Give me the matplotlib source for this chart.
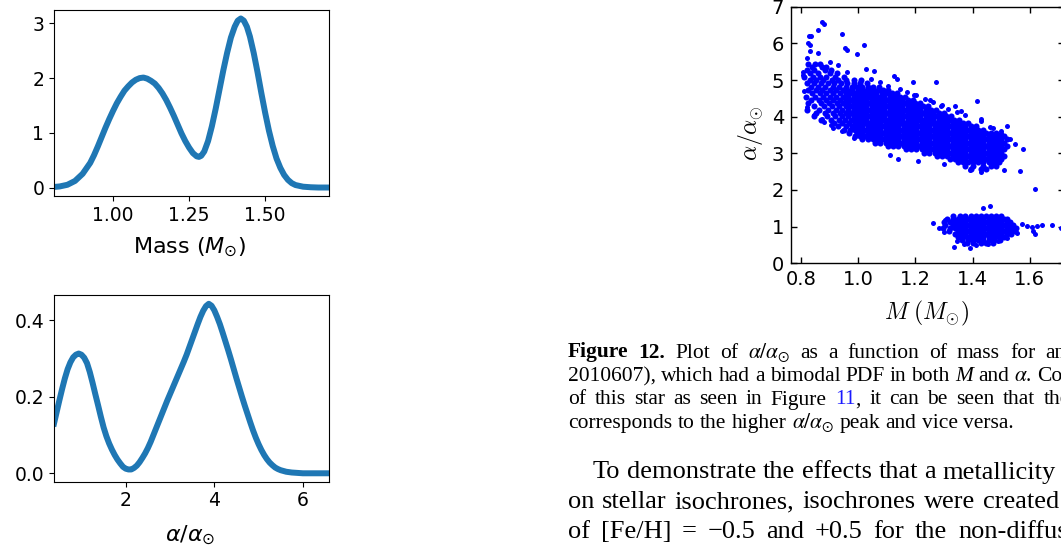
import matplotlib
matplotlib.use("Agg")
import matplotlib.pyplot as plt

W, H, DPI = 1061, 548, 100

# ---------------- posterior density curves ----------------
mass_grid = [0.806, 0.825, 0.85, 0.875, 0.90, 0.925, 0.9375, 0.95, 0.9625, 0.975,
             0.9875, 1.00, 1.0125, 1.025, 1.0375, 1.05, 1.0625, 1.075, 1.0875, 1.10,
             1.1125, 1.125, 1.1375, 1.15, 1.1625, 1.175, 1.1875, 1.20, 1.2125, 1.225,
             1.2375, 1.25, 1.2625, 1.275, 1.2825, 1.29, 1.30, 1.3125, 1.325, 1.3375,
             1.35, 1.3625, 1.375, 1.3875, 1.40, 1.41, 1.42, 1.43, 1.44, 1.45, 1.4625,
             1.475, 1.4875, 1.50, 1.5125, 1.525, 1.5375, 1.55, 1.5625, 1.575, 1.5875,
             1.60, 1.625, 1.65, 1.675, 1.71]
mass_pdf = [0.01, 0.02, 0.05, 0.12, 0.25, 0.45, 0.59, 0.75, 0.92, 1.09,
            1.25, 1.40, 1.54, 1.66, 1.77, 1.85, 1.92, 1.97, 2.00, 2.01,
            1.99, 1.95, 1.90, 1.82, 1.72, 1.60, 1.46, 1.31, 1.15, 0.99,
            0.85, 0.73, 0.63, 0.57, 0.56, 0.58, 0.66, 0.85, 1.12, 1.44,
            1.79, 2.14, 2.46, 2.74, 2.94, 3.05, 3.09, 3.05, 2.94, 2.76, 2.46,
            2.11, 1.73, 1.37, 1.04, 0.76, 0.53, 0.36, 0.23, 0.14, 0.08,
            0.045, 0.015, 0.005, 0.0, 0.0]

alpha_grid = [0.38, 0.45, 0.50, 0.5625, 0.625, 0.6875, 0.75, 0.8125, 0.875, 0.9375,
              1.00, 1.0625, 1.125, 1.1875, 1.25, 1.3125, 1.375, 1.4375, 1.50, 1.5625,
              1.625, 1.6875, 1.75, 1.8125, 1.875, 1.9375, 2.00, 2.0625, 2.125, 2.1875,
              2.25, 2.3125, 2.375, 2.4375, 2.50, 2.5625, 2.625, 2.6875, 2.75, 2.8125,
              2.875, 2.9375, 3.00, 3.0625, 3.125, 3.1875, 3.25, 3.3125, 3.375, 3.4375,
              3.50, 3.5625, 3.625, 3.6875, 3.75, 3.8125, 3.875, 3.9375, 4.00, 4.0625,
              4.125, 4.1875, 4.25, 4.3125, 4.375, 4.4375, 4.50, 4.5625, 4.625, 4.6875,
              4.75, 4.8125, 4.875, 4.9375, 5.00, 5.0625, 5.125, 5.1875, 5.25, 5.3125,
              5.375, 5.4375, 5.50, 5.625, 5.75, 5.875, 6.00, 6.59]
alpha_pdf = [0.13, 0.165, 0.19, 0.22, 0.248, 0.272, 0.29, 0.303, 0.31, 0.313,
             0.31, 0.302, 0.288, 0.265, 0.237, 0.207, 0.178, 0.148, 0.12, 0.097,
             0.078, 0.062, 0.048, 0.036, 0.026, 0.017, 0.012, 0.010, 0.010, 0.014,
             0.02, 0.029, 0.04, 0.052, 0.066, 0.082, 0.10, 0.118, 0.136, 0.154,
             0.172, 0.19, 0.207, 0.224, 0.241, 0.258, 0.275, 0.292, 0.31, 0.33,
             0.35, 0.37, 0.39, 0.409, 0.425, 0.437, 0.443, 0.438, 0.426, 0.409,
             0.39, 0.368, 0.345, 0.322, 0.298, 0.273, 0.248, 0.224, 0.20, 0.177,
             0.155, 0.133, 0.112, 0.093, 0.076, 0.061, 0.048, 0.037, 0.028, 0.021,
             0.015, 0.011, 0.008, 0.004, 0.002, 0.001, 0.0, 0.0]

mass_ticks = [1.00, 1.25, 1.50]
mass_pdf_ticks = [0, 1, 2, 3]
alpha_ticks = [2, 4, 6]
alpha_pdf_ticks = [0.0, 0.2, 0.4]

# ---------------- sampled (M, alpha) pairs ----------------
# high-alpha branch, listed row by row in alpha
upper_row_alpha = [5.45, 5.36, 5.27, 5.18, 5.09, 5.00, 4.91, 4.82, 4.73, 4.64, 4.55,
                   4.46, 4.37, 4.28, 4.19, 4.10, 4.01, 3.92, 3.83, 3.74, 3.65, 3.56,
                   3.47, 3.38, 3.29, 3.20, 3.11, 3.02, 2.93, 2.84, 2.75, 2.66, 2.58]
upper_row_mass = [
    [0.826, 0.850, 0.866],
    [0.838, 0.872, 0.889],
    [0.822, 0.846, 0.884, 0.905],
    [0.833, 0.858, 0.900, 0.927],
    [0.812, 0.842, 0.866, 0.888, 0.918, 0.950],
    [0.830, 0.852, 0.876, 0.907, 0.930, 0.958, 0.985, 1.010],
    [0.822, 0.846, 0.870, 0.895, 0.917, 0.940, 0.962, 0.984, 1.006, 1.030],
    [0.835, 0.860, 0.884, 0.912, 0.934, 0.956, 0.979, 0.997, 1.015, 1.033, 1.051, 1.072],
    [0.826, 0.852, 0.875, 0.900, 0.922, 0.946, 0.962, 0.980, 0.998, 1.016, 1.034, 1.052,
     1.070, 1.088, 1.105],
    [0.840, 0.866, 0.889, 0.912, 0.936, 0.956, 0.974, 0.992, 1.010, 1.028, 1.046, 1.064,
     1.082, 1.100, 1.118, 1.136],
    [0.818, 0.850, 0.876, 0.900, 0.924, 0.948, 0.966, 0.984, 1.002, 1.020, 1.038, 1.056,
     1.074, 1.092, 1.110, 1.128, 1.146, 1.164],
    [0.835, 0.862, 0.889, 0.912, 0.936, 0.957, 0.975, 0.993, 1.011, 1.029, 1.047, 1.065,
     1.083, 1.101, 1.119, 1.137, 1.155, 1.173, 1.191],
    [0.826, 0.870, 0.898, 0.925, 0.948, 0.966, 0.984, 1.002, 1.020, 1.038, 1.056, 1.074,
     1.092, 1.110, 1.128, 1.146, 1.164, 1.182, 1.200, 1.218],
    [0.845, 0.880, 0.907, 0.932, 0.957, 0.975, 0.993, 1.011, 1.029, 1.047, 1.065, 1.083,
     1.101, 1.119, 1.137, 1.155, 1.173, 1.191, 1.209, 1.227, 1.245],
    [0.822, 0.862, 0.895, 0.922, 0.945, 0.966, 0.984, 1.002, 1.020, 1.038, 1.056, 1.074,
     1.092, 1.110, 1.128, 1.146, 1.164, 1.182, 1.200, 1.218, 1.236, 1.254, 1.272],
    [0.853, 0.884, 0.912, 0.936, 0.957, 0.975, 0.993, 1.011, 1.029, 1.047, 1.065, 1.083,
     1.101, 1.119, 1.137, 1.155, 1.173, 1.191, 1.209, 1.227, 1.245, 1.263, 1.281, 1.299],
    [0.846, 0.890, 0.920, 0.945, 0.966, 0.984, 1.002, 1.020, 1.038, 1.056, 1.074, 1.092,
     1.110, 1.128, 1.146, 1.164, 1.182, 1.200, 1.218, 1.236, 1.254, 1.272, 1.290, 1.308,
     1.326],
    [0.870, 0.905, 0.932, 0.955, 0.975, 0.993, 1.011, 1.029, 1.047, 1.065, 1.083, 1.101,
     1.119, 1.137, 1.155, 1.173, 1.191, 1.209, 1.227, 1.245, 1.263, 1.281, 1.299, 1.317,
     1.335, 1.353],
    [0.916, 0.945, 0.968, 0.988, 1.006, 1.024, 1.042, 1.060, 1.078, 1.096, 1.114, 1.132,
     1.150, 1.168, 1.186, 1.204, 1.222, 1.240, 1.258, 1.276, 1.294, 1.312, 1.330, 1.348,
     1.366, 1.384],
    [0.930, 0.957, 0.979, 0.997, 1.015, 1.033, 1.051, 1.069, 1.087, 1.105, 1.123, 1.141,
     1.159, 1.177, 1.195, 1.213, 1.231, 1.249, 1.267, 1.285, 1.303, 1.321, 1.339, 1.357,
     1.375, 1.393, 1.411],
    [0.952, 0.970, 0.988, 1.006, 1.024, 1.042, 1.060, 1.078, 1.096, 1.114, 1.132, 1.150,
     1.168, 1.186, 1.204, 1.222, 1.240, 1.258, 1.276, 1.294, 1.312, 1.330, 1.348, 1.366,
     1.384, 1.402, 1.420, 1.438],
    [0.968, 0.997, 1.015, 1.033, 1.051, 1.069, 1.087, 1.105, 1.123, 1.141, 1.159, 1.177,
     1.195, 1.213, 1.231, 1.249, 1.267, 1.285, 1.303, 1.321, 1.339, 1.357, 1.375, 1.393,
     1.411, 1.429, 1.447, 1.465, 1.483],
    [0.988, 1.006, 1.024, 1.042, 1.060, 1.078, 1.096, 1.114, 1.132, 1.150, 1.168, 1.186,
     1.204, 1.222, 1.240, 1.258, 1.276, 1.294, 1.312, 1.330, 1.348, 1.366, 1.384, 1.402,
     1.420, 1.438, 1.456, 1.474, 1.492, 1.510],
    [1.015, 1.033, 1.051, 1.069, 1.087, 1.105, 1.123, 1.141, 1.159, 1.177, 1.195, 1.213,
     1.231, 1.249, 1.267, 1.285, 1.303, 1.321, 1.339, 1.357, 1.375, 1.393, 1.411, 1.429,
     1.447, 1.465, 1.483, 1.501, 1.519],
    [1.060, 1.078, 1.096, 1.114, 1.132, 1.150, 1.168, 1.186, 1.204, 1.222, 1.240, 1.258,
     1.276, 1.294, 1.312, 1.330, 1.348, 1.366, 1.384, 1.402, 1.420, 1.438, 1.456, 1.474,
     1.492, 1.510],
    [1.105, 1.123, 1.141, 1.159, 1.177, 1.195, 1.213, 1.231, 1.249, 1.267, 1.285, 1.303,
     1.321, 1.339, 1.357, 1.375, 1.393, 1.411, 1.429, 1.447, 1.465, 1.483, 1.501, 1.519],
    [1.168, 1.186, 1.204, 1.222, 1.240, 1.258, 1.276, 1.294, 1.312, 1.330, 1.348, 1.366,
     1.384, 1.402, 1.420, 1.438, 1.456, 1.474, 1.492, 1.510],
    [1.231, 1.249, 1.267, 1.285, 1.303, 1.321, 1.339, 1.357, 1.375, 1.393, 1.411, 1.429,
     1.447, 1.465, 1.483, 1.501],
    [1.276, 1.294, 1.312, 1.330, 1.348, 1.366, 1.384, 1.402, 1.420, 1.438, 1.456, 1.474,
     1.492, 1.510],
    [1.321, 1.339, 1.357, 1.375, 1.393, 1.411, 1.429, 1.447, 1.465, 1.483, 1.501],
    [1.348, 1.366, 1.384, 1.402, 1.420, 1.438, 1.456, 1.474, 1.492],
    [1.375, 1.402, 1.438, 1.465, 1.483],
    [1.393, 1.429, 1.447],
]
upper_extra_mass = [0.873, 0.881, 0.861, 0.943, 0.828, 0.835, 0.826, 0.830, 1.020, 0.954,
                    0.960, 0.995, 0.861, 0.830, 0.820, 0.808, 1.056, 1.028, 1.127, 1.135,
                    1.193, 1.203, 0.820, 0.846, 0.875, 0.905, 0.943, 1.273, 1.417, 1.250,
                    1.290, 1.340, 1.360, 1.430, 1.470, 1.520, 1.500, 1.576, 1.567, 1.620,
                    1.510, 1.110, 1.140, 1.210, 1.300, 1.390, 1.430, 0.900, 0.930, 0.962,
                    1.045, 1.075, 1.105, 1.145, 1.172, 1.195, 1.235, 1.262, 1.292, 1.315,
                    1.345, 1.372, 1.430, 1.460, 1.500, 1.530, 1.550, 0.806, 0.812, 0.880,
                    0.912, 0.985]
upper_extra_alpha = [6.57, 6.53, 6.36, 6.26, 6.19, 6.20, 6.00, 5.95, 5.96, 5.87,
                     5.83, 5.71, 5.74, 5.80, 5.60, 5.21, 5.25, 5.30, 5.10, 5.04,
                     4.95, 4.60, 4.26, 4.05, 3.94, 3.78, 3.60, 4.95, 4.44, 4.45,
                     4.30, 4.30, 4.15, 3.95, 3.70, 3.75, 3.55, 3.11, 2.53, 2.03,
                     2.55, 2.96, 2.85, 2.80, 2.70, 2.55, 2.50, 5.48, 5.40, 5.22,
                     5.03, 4.94, 4.85, 4.76, 4.67, 4.58, 4.49, 4.40, 4.31, 4.22,
                     4.13, 4.04, 3.88, 3.72, 3.62, 3.40, 3.25, 5.15, 4.70, 3.85,
                     3.68, 3.42]

# low-alpha branch, listed row by row in alpha
lower_row_alpha = [1.28, 1.20, 1.12, 1.04, 0.96, 0.88, 0.80, 0.72, 0.64, 0.56]
lower_row_mass = [
    [1.330, 1.357, 1.375, 1.393, 1.411, 1.429, 1.447, 1.465, 1.483, 1.500],
    [1.312, 1.330, 1.348, 1.366, 1.384, 1.402, 1.420, 1.438, 1.456, 1.474, 1.492, 1.510,
     1.522],
    [1.300, 1.321, 1.339, 1.357, 1.375, 1.393, 1.411, 1.429, 1.447, 1.465, 1.483, 1.501,
     1.519, 1.532],
    [1.303, 1.330, 1.348, 1.366, 1.384, 1.402, 1.420, 1.438, 1.456, 1.474, 1.492, 1.510,
     1.528, 1.543],
    [1.296, 1.321, 1.339, 1.357, 1.375, 1.393, 1.411, 1.429, 1.447, 1.465, 1.483, 1.501,
     1.519, 1.537, 1.552],
    [1.318, 1.348, 1.366, 1.384, 1.402, 1.420, 1.438, 1.456, 1.474, 1.492, 1.510, 1.528,
     1.548],
    [1.339, 1.357, 1.375, 1.393, 1.411, 1.429, 1.447, 1.465, 1.483, 1.501, 1.519, 1.533],
    [1.348, 1.366, 1.384, 1.402, 1.420, 1.438, 1.456, 1.474, 1.492, 1.510],
    [1.362, 1.384, 1.402, 1.420, 1.438, 1.456, 1.474, 1.495],
    [1.380, 1.402, 1.429, 1.447, 1.470],
]
lower_extra_mass = [1.263, 1.281, 1.305, 1.300, 1.334, 1.392, 1.370, 1.435, 1.461, 1.573,
                    1.590, 1.608, 1.625, 1.643, 1.678, 1.708, 1.620, 1.610, 1.555, 1.543,
                    1.520, 1.345, 1.412, 1.455, 1.488]
lower_extra_alpha = [1.09, 0.96, 1.18, 0.85, 0.44, 0.41, 0.52, 1.52, 1.57, 1.07,
                     1.02, 1.00, 1.02, 1.04, 1.05, 0.96, 0.79, 0.88, 0.82, 0.91,
                     0.68, 0.62, 0.50, 0.52, 0.60]

scatter_xticks = [0.8, 1.0, 1.2, 1.4, 1.6]
scatter_yticks = [0, 1, 2, 3, 4, 5, 6, 7]

LINE_BLUE = "#1f77b4"
DOT_BLUE = "#0000ff"

fig = plt.figure(figsize=(W / DPI, H / DPI), dpi=DPI)
fig.patch.set_facecolor("white")


def axes_px(x0, y0, x1, y1):
    """Axes placed by pixel box (origin top-left)."""
    return fig.add_axes([x0 / W, 1 - y1 / H, (x1 - x0) / W, (y1 - y0) / H])


# ---- mass PDF ----
ax1 = axes_px(54, 10, 329, 196)
ax1.plot(mass_grid, mass_pdf, color=LINE_BLUE, lw=4.3)
ax1.set_xlim(0.806, 1.71)
ax1.set_ylim(-0.155, 3.245)
ax1.set_xticks(mass_ticks)
ax1.set_xticklabels([f"{v:.2f}" for v in mass_ticks])
ax1.set_yticks(mass_pdf_ticks)
ax1.tick_params(labelsize=13.5)
ax1.set_xlabel(r"Mass ($M_{\odot}$)", fontsize=16, va="center")
ax1.xaxis.set_label_coords(0.495, -0.275)

# ---- alpha PDF ----
ax2 = axes_px(54, 295, 329, 481.7)
ax2.plot(alpha_grid, alpha_pdf, color=LINE_BLUE, lw=4.3)
ax2.set_xlim(0.38, 6.59)
ax2.set_ylim(-0.022, 0.466)
ax2.set_xticks(alpha_ticks)
ax2.set_yticks(alpha_pdf_ticks)
ax2.set_yticklabels([f"{v:.1f}" for v in alpha_pdf_ticks])
ax2.tick_params(labelsize=13.5)
ax2.set_xlabel(r"$\alpha/\alpha_{\odot}$", fontsize=16, va="center")
ax2.xaxis.set_label_coords(0.495, -0.286)

# ---- alpha vs mass scatter ----
ax3 = axes_px(791, 6.7, 1064, 263.3)
up_m, up_a = [], []
for a, row in zip(upper_row_alpha, upper_row_mass):
    up_m.extend(row)
    up_a.extend([a] * len(row))
lo_m, lo_a = [], []
for a, row in zip(lower_row_alpha, lower_row_mass):
    lo_m.extend(row)
    lo_a.extend([a] * len(row))
ax3.plot(up_m, up_a, "o", color=DOT_BLUE, ms=4.4, mew=0)
ax3.plot(lo_m, lo_a, "o", color=DOT_BLUE, ms=4.4, mew=0)
ax3.plot(upper_extra_mass, upper_extra_alpha, "o", color=DOT_BLUE, ms=3.6, mew=0)
ax3.plot(lower_extra_mass, lower_extra_alpha, "o", color=DOT_BLUE, ms=3.6, mew=0)
ax3.set_xlim(0.765, 1.72)
ax3.set_ylim(0, 7)
ax3.set_xticks(scatter_xticks)
ax3.set_yticks(scatter_yticks)
ax3.tick_params(direction="in", top=True, right=True, length=4, width=1,
                labelsize=14, pad=5)
for sp in ax3.spines.values():
    sp.set_linewidth(1.0)
ax3.set_xlabel(r"$M\ (M_{\odot})$", fontsize=17, math_fontfamily="cm", va="center")
ax3.xaxis.set_label_coords(0.498, -0.194)
ax3.set_ylabel(r"$\alpha/\alpha_{\odot}$", fontsize=17, math_fontfamily="cm", va="center")
ax3.yaxis.set_label_coords(-0.15, 0.508)

# ---- caption and body text (justified word by word) ----
renderer = fig.canvas.get_renderer()
SERIF = "Liberation Serif"


def make_words(words, size):
    objs = []
    for w in words:
        txt = w[0]
        kw = dict(w[1]) if len(w) > 1 else {}
        glue = kw.pop("glue", False)
        t = fig.text(0, 0, txt, fontsize=size, family=SERIF, va="baseline", ha="left",
                     math_fontfamily="stix", **kw)
        objs.append((t, glue))
    widths = [t.get_window_extent(renderer).width for t, _ in objs]
    return objs, widths


def text_line(words, x0, baseline, size, anchor=None, anchor_x=None, anchor_end=None):
    """Lay out words from x0; if anchor is given, the word with that index
    starts at anchor_x (or ends at anchor_end) and the inter-word space is
    stretched accordingly."""
    objs, widths = make_words(words, size)
    space = size * DPI / 72 * 0.25
    if anchor is not None:
        if anchor_end is not None:
            anchor_x = anchor_end - widths[anchor]
        gaps = sum(1 for _, g in objs[1:anchor + 1] if not g)
        space = (anchor_x - x0 - sum(widths[:anchor])) / gaps
    x = x0
    for i, ((t, glue), w) in enumerate(zip(objs, widths)):
        if i > 0 and not glue:
            x += space
        t.set_position((x / W, 1 - baseline / H))
        x += w


def natural_width(words, size):
    objs, widths = make_words(words, size)
    space = size * DPI / 72 * 0.25
    total = sum(widths) + space * sum(1 for _, g in objs[1:] if not g)
    for t, _ in objs:
        t.remove()
    return total


BOLD = {"weight": "bold"}
ITAL = {"style": "italic"}
AS = r"$\alpha/\alpha_{\odot}$"

last_caption_line = [("corresponds",), ("to",), ("the",), ("higher",), (AS,), ("peak",),
                     ("and",), ("vice",), ("versa.",)]
CAP = 0.98 * 14.0 * 457.0 / natural_width(last_caption_line, 14.0)

text_line([("Figure", BOLD), ("12.", BOLD), ("Plot",), ("of",), (AS,), ("as",), ("a",),
           ("function",), ("of",), ("mass",), ("for",), ("an",), ("example",)],
          568, 357.5, CAP, anchor=11, anchor_x=1045)
text_line([("2010607),",), ("which",), ("had",), ("a",), ("bimodal",), ("PDF",), ("in",),
           ("both",), ("M", ITAL), ("and",), (r"$\alpha$.",), ("Considering",)],
          568, 381, CAP, anchor=11, anchor_x=1036.7)
text_line([("of",), ("this",), ("star",), ("as",), ("seen",), ("in",), ("Figure",),
           ("11", {"color": "#1a1aff"}), (",", {"glue": True}), ("it",), ("can",),
           ("be",), ("seen",), ("that",), ("the",)],
          568, 404.5, CAP, anchor=14, anchor_x=1043.3)
text_line(last_caption_line, 568, 428, CAP)

first_body_line = [("To",), ("demonstrate",), ("the",), ("effects",), ("that",), ("a",),
                   ("metallicity",)]
BODY = 18.0 * 464.0 / natural_width(first_body_line, 18.0)
text_line(first_body_line + [("change",)], 593, 478.5, BODY)
text_line([("on",), ("stellar",), ("isochrones,",), ("isochrones",), ("were",),
           ("created",), ("with",)], 568, 508, BODY, anchor=5, anchor_end=1059)
text_line([("of",), ("[Fe/H]",), ("=",), ("\u22120.5",), ("and",), ("+0.5",), ("for",),
           ("the",), ("non-diffusion",)], 568, 537.5, BODY, anchor=8, anchor_x=958)

fig.savefig("out.png", dpi=DPI)
